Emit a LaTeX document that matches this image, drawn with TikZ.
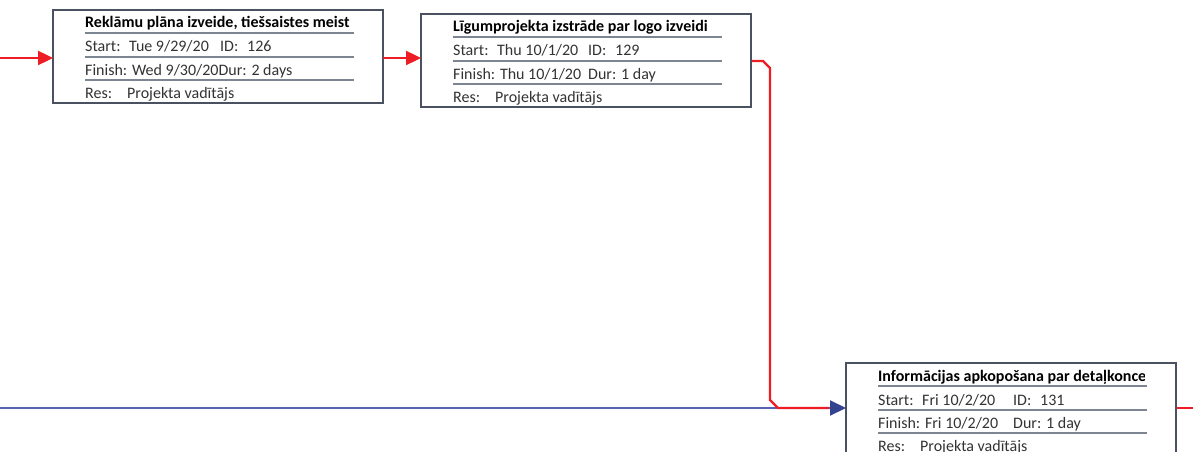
\documentclass[tikz,border=0pt]{standalone}
\usepackage{fontspec}
\setmainfont{Carlito}
\usetikzlibrary{arrows.meta}
\definecolor{boxline}{HTML}{4A5262}
\definecolor{sepline}{HTML}{7C8591}
\definecolor{critred}{HTML}{EE1C25}
\definecolor{linkblue}{HTML}{5565B0}
\definecolor{tipblue}{HTML}{34438F}
\definecolor{txtgray}{HTML}{333333}
\tikzset{
  taskbox/.style={draw=boxline, line width=1.3pt, fill=white, rectangle,
    minimum width=330pt, minimum height=93pt, inner sep=0pt, outer sep=0pt, anchor=north west},
  hdr/.style={font=\fontsize{16}{18}\selectfont\bfseries, text=black, inner sep=0pt, anchor=base west},
  row/.style={font=\fontsize{16}{18}\selectfont, text=txtgray, inner sep=0pt, anchor=base west},
  sepl/.style={draw=sepline, line width=1.6pt},
  redlink/.style={draw=critred, line width=2.4pt},
  bluelink/.style={draw=linkblue, line width=2pt},
  redtip/.style={-{Triangle[length=15pt,width=14pt]}, critred},
  bluetip/.style={-{Triangle[length=16pt,width=15pt,color=tipblue]}},
}
% #1 name, #2 left, #3 top, #4 header, #5 header clip width, #6 start value, #7 id, #8 finish text, #9 dur text
\newcommand{\taskcard}[9]{%
  \node[taskbox] (#1) at (#2,#3) {};
  \begin{scope}
    \clip (#2+30,#3+2) rectangle (#2+#5,#3+22);
    \node[hdr] (#1-h) at (#2+32,#3+18) {#4};
  \end{scope}
  \draw[sepl] (#2+32,#3+23) -- (#2+301,#3+23);
  \draw[sepl] (#2+32,#3+47) -- (#2+301,#3+47);
  \draw[sepl] (#2+32,#3+70) -- (#2+301,#3+70);
  \node[row] (#1-sl) at (#2+32,#3+42) {Start:};
  \node[row] (#1-sv) at (#2+76,#3+42) {#6};
  \node[row] (#1-il) at (#2+167,#3+42) {ID:};
  \node[row] (#1-iv) at (#2+194,#3+42) {#7};
  \node[row] (#1-fl) at (#2+32,#3+65) {#8};
  \node[row] (#1-dl) at (#2+167,#3+65) {#9};
  \node[row] (#1-rl) at (#2+32,#3+88) {Res:};
  \node[row] (#1-rv) at (#2+74,#3+88) {Projekta vadītājs};
}
\begin{document}
\begin{tikzpicture}[x=1pt,y=-1pt]
\useasboundingbox (0,0) rectangle (1193,452);
\clip (0,0) rectangle (1193,452);
\fill[white] (0,0) rectangle (1193,452);

\coordinate (in1) at (0,58);
\coordinate (in3) at (0,408);
\coordinate (out3) at (1193,408);

\taskcard{b1}{53}{10}{Reklāmu plāna izveide, tiešsaistes meist}{301}{Tue 9/29/20}{126}{Finish: Wed 9/30/20Dur: 2 days}{}
\taskcard{b2}{421}{14}{Līgumprojekta izstrāde par logo izveidi}{301}{Thu 10/1/20}{129}{Finish: Thu 10/1/20}{Dur: 1 day}
\taskcard{b3}{846}{363}{Informācijas apkopošana par detaļkonce}{298}{Fri 10/2/20}{131}{Finish: Fri 10/2/20}{Dur: 1 day}

\coordinate (c1) at (763,61);
\coordinate (c2) at (770,68);
\coordinate (c3) at (770,400);
\coordinate (c4) at (778,408);
\coordinate (c5) at (829,408);
\coordinate (b2out) at (752,61);
\coordinate (b3in) at (846,408);
\coordinate (b3out) at (1177,408);

\draw[redlink, redtip] (in1) -- (in1 -| b1.west);
\draw[redlink, redtip] (b1.east |- in1) -- (in1 -| b2.west);
\draw[bluelink, bluetip] (in3) -- (b3in);
\draw[redlink] (b2out) -- (c1) -- (c2) -- (c3) -- (c4) -- (c5);
\draw[redlink] (b3out) -- (out3);
\end{tikzpicture}
\end{document}
